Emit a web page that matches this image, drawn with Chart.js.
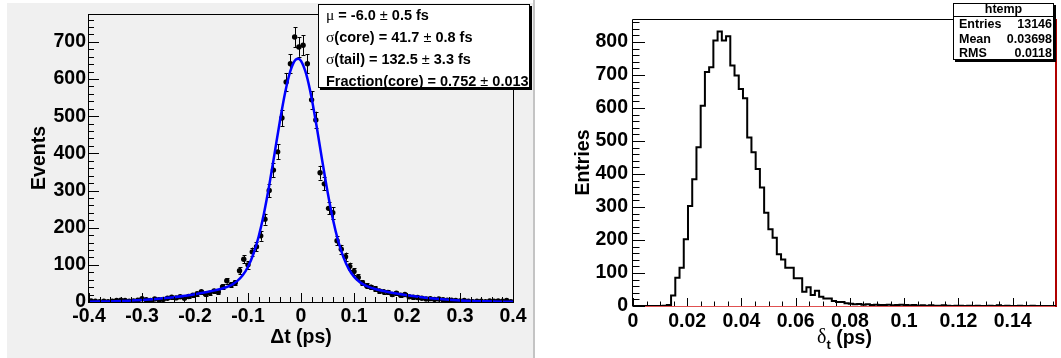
<!DOCTYPE html>
<html>
<head>
<meta charset="utf-8">
<script src="https://cdn.jsdelivr.net/npm/chart.js@4/dist/chart.umd.min.js"></script>
<style>
html, body { margin: 0; padding: 0; background: #fff; }
#wrap { position: relative; width: 1061px; height: 358px; }
#dtChart { position: absolute; left: 0; top: 0; }
#sigmaChart { position: absolute; left: 536px; top: 0; }
</style>
</head>
<body>
<div id="wrap">
<canvas id="dtChart" width="536" height="358"></canvas>
<canvas id="sigmaChart" width="525" height="358"></canvas>
</div>
<script>
// ---- delta t residuals, 100 bins of 0.008 ps from -0.4 to 0.4 ----
var dtMin = -0.4;
var dtBinWidth = 0.008;
var dtCounts = [
    3, 2, 1, 2, 1, 2, 4, 5, 4, 2,
    3, 5, 9, 6, 4, 8, 6, 7, 10, 13,
    11, 14, 10, 15, 18, 22, 28, 21, 24, 30,
    27, 41, 57, 46, 52, 84, 115, 100, 135, 149,
    178, 223, 300, 355, 404, 495, 592, 641, 713, 686,
    691, 641, 544, 490, 348, 318, 252, 240, 165, 142,
    122, 96, 82, 66, 52, 44, 40, 36, 30, 28,
    26, 20, 24, 18, 20, 14, 13, 12, 10, 8,
    9, 7, 8, 6, 5, 5, 4, 3, 4, 2,
    1, 2, 2, 1, 3, 2, 3, 2, 4, 1
];

// fitted double gaussian, sampled along delta t
var fitX = [-0.40, -0.35, -0.30, -0.25, -0.20, -0.18, -0.16, -0.14, -0.13, -0.12,
    -0.11, -0.10, -0.09, -0.08, -0.07, -0.06, -0.05, -0.04, -0.03, -0.02,
    -0.01, -0.005, 0.00, 0.01, 0.02, 0.03, 0.04, 0.05, 0.06, 0.07,
    0.08, 0.09, 0.10, 0.11, 0.12, 0.13, 0.14, 0.16, 0.18, 0.20,
    0.25, 0.30, 0.35, 0.40];
var fitY = [0.7, 2.1, 5.3, 11.3, 21.1, 26.1, 32.0, 40.3, 46.9, 56.7,
    71.7, 94.7, 128.4, 175.6, 237.6, 313.3, 398.4, 485.2, 563.4, 622.1,
    652.3, 654.8, 648.8, 612.4, 549.0, 468.2, 380.9, 297.2, 224.0, 165.0,
    120.7, 89.3, 68.2, 54.4, 45.4, 39.3, 34.9, 28.3, 23.0, 18.4,
    9.5, 4.3, 1.7, 0.6];

var dtXTicks = [-0.4, -0.3, -0.2, -0.1, 0, 0.1, 0.2, 0.3, 0.4];
var dtYTicks = [0, 100, 200, 300, 400, 500, 600, 700];
var fitLines = [
    'μ = -6.0 ± 0.5 fs',
    'σ(core) = 41.7 ± 0.8 fs',
    'σ(tail) = 132.5 ± 3.3 fs',
    'Fraction(core) = 0.752 ± 0.013'
];

// ---- per-event delta t error, 100 bins from 0 to 0.156 ps ----
var sigmaMin = 0;
var sigmaBinWidth = 0.00156;
var sigmaCounts = [
    0, 0, 0, 0, 0, 0, 0, 1, 3, 32,
    86, 116, 202, 303, 384, 481, 607, 709, 724, 805,
    832, 805, 818, 729, 699, 658, 630, 511, 466, 415,
    359, 283, 233, 207, 157, 141, 116, 116, 84, 84,
    43, 57, 33, 46, 28, 23, 23, 15, 12, 12,
    8, 7, 5, 6, 4, 5, 3, 4, 3, 3,
    4, 2, 3, 4, 3, 2, 3, 1, 2, 1,
    2, 1, 1, 2, 1, 0, 1, 1, 0, 1,
    0, 1, 0, 0, 1, 0, 2, 0, 1, 0,
    0, 1, 0, 0, 1, 0, 0, 0, 0, 0
];
var sigmaXTicks = [0, 0.02, 0.04, 0.06, 0.08, 0.1, 0.12, 0.14];
var sigmaYTicks = [0, 100, 200, 300, 400, 500, 600, 700, 800];
var statTitle = 'htemp';
var statRows = [['Entries', '13146'], ['Mean', '0.03698'], ['RMS', '0.0118']];

var FAMILY = '"Liberation Sans", Arial, Helvetica, sans-serif';
var tickFont = { family: FAMILY, size: 19.5, weight: 'bold' };
var titleFont = { family: FAMILY, size: 19.5, weight: 'bold' };

function range(from, to, step) {
    var out = [];
    for (var v = from; v <= to + step / 1000; v += step) out.push(+v.toFixed(6));
    return out;
}

function fmtTick(v) {
    return String(+(+v).toFixed(3));
}

// ticks drawn inside the frame, ROOT style
function drawTicks(chart, t) {
    var ctx = chart.ctx, a = chart.chartArea;
    var xs = chart.scales.x, ys = chart.scales.y;
    ctx.save();
    ctx.strokeStyle = '#000';
    ctx.lineWidth = 1;
    ctx.beginPath();
    function xt(list, len) {
        list.forEach(function (v) {
            var px = Math.round(xs.getPixelForValue(v)) + 0.5;
            ctx.moveTo(px, a.bottom);
            ctx.lineTo(px, a.bottom - len);
        });
    }
    function yt(list, len) {
        list.forEach(function (v) {
            var py = Math.round(ys.getPixelForValue(v)) + 0.5;
            ctx.moveTo(a.left, py);
            ctx.lineTo(a.left + len, py);
        });
    }
    xt(t.xMinor, t.xMinorLen);
    xt(t.xMajor, t.xMajorLen);
    yt(t.yMinor, t.yMinorLen);
    yt(t.yMajor, t.yMajorLen);
    ctx.stroke();
    ctx.restore();
}

// stats text: greek letters and the plus-minus come in a plain face
function drawRich(ctx, text, x, y, size) {
    var cur = x;
    for (var i = 0; i < text.length; i++) {
        var ch = text[i];
        if (ch === 'μ' || ch === 'σ') {
            ctx.font = (size + 1) + 'px "Liberation Serif", serif';
        } else if (ch === '±') {
            ctx.font = size + 'px ' + FAMILY;
        } else {
            ctx.font = 'bold ' + size + 'px ' + FAMILY;
        }
        ctx.fillText(ch, cur, y);
        cur += ctx.measureText(ch).width;
    }
}

function drawBox(ctx, x0, y0, x1, y1) {
    ctx.fillStyle = '#000';
    ctx.fillRect(x0 + 2, y0 + 2, x1 - x0, y1 - y0);
    ctx.fillStyle = '#fff';
    ctx.fillRect(x0, y0, x1 - x0, y1 - y0);
    ctx.strokeStyle = '#000';
    ctx.lineWidth = 1;
    ctx.strokeRect(x0 + 0.5, y0 + 0.5, x1 - x0 - 1, y1 - y0 - 1);
}

// ---------------------
// - LEFT: FIT OF DT -
// ---------------------
var dtPoints = dtCounts.map(function (c, i) {
    return { x: dtMin + (i + 0.5) * dtBinWidth, y: c };
});
var fitPoints = fitX.map(function (x, i) {
    return { x: x, y: fitY[i] };
});

var dtPlugin = {
    id: 'dtFrame',
    beforeDraw: function (chart) {
        var ctx = chart.ctx;
        ctx.save();
        ctx.fillStyle = '#fff';
        ctx.fillRect(0, 0, chart.width, chart.height);
        ctx.fillStyle = '#f0f0f0';
        ctx.fillRect(7, 3, 527, 355);
        ctx.fillStyle = '#c4c4c4';
        ctx.fillRect(533, 0, 2, 358);
        ctx.restore();
    },
    beforeDatasetsDraw: function (chart) {
        // poisson error bars under the markers
        var ctx = chart.ctx, a = chart.chartArea;
        var xs = chart.scales.x, ys = chart.scales.y;
        ctx.save();
        ctx.beginPath();
        ctx.rect(a.left, a.top, a.right - a.left, a.bottom - a.top);
        ctx.clip();
        ctx.strokeStyle = '#000';
        ctx.lineWidth = 1;
        ctx.beginPath();
        dtPoints.forEach(function (p) {
            var e = Math.sqrt(p.y);
            var px = Math.round(xs.getPixelForValue(p.x)) + 0.5;
            var top = ys.getPixelForValue(p.y + e);
            var bot = ys.getPixelForValue(Math.max(p.y - e, 0));
            ctx.moveTo(px, top);
            ctx.lineTo(px, bot);
            ctx.moveTo(px - 2, Math.round(top) + 0.5);
            ctx.lineTo(px + 2, Math.round(top) + 0.5);
            ctx.moveTo(px - 2, Math.round(bot) + 0.5);
            ctx.lineTo(px + 2, Math.round(bot) + 0.5);
        });
        ctx.stroke();
        ctx.restore();
    },
    afterDraw: function (chart) {
        var ctx = chart.ctx, a = chart.chartArea;
        ctx.save();
        ctx.strokeStyle = '#000';
        ctx.lineWidth = 1;
        ctx.strokeRect(Math.round(a.left) - 0.5, Math.round(a.top) + 0.5,
            Math.round(a.right - a.left) + 1, Math.round(a.bottom - a.top));
        drawTicks(chart, {
            xMajor: dtXTicks, xMinor: range(-0.4, 0.4, 0.02), xMajorLen: 9, xMinorLen: 5,
            yMajor: dtYTicks, yMinor: range(0, 760, 20), yMajorLen: 10, yMinorLen: 5
        });
        drawBox(ctx, 318, 4, 530, 88);
        ctx.fillStyle = '#000';
        ctx.textBaseline = 'middle';
        ctx.textAlign = 'left';
        fitLines.forEach(function (line, i) {
            drawRich(ctx, line, 326, 16 + i * 22, 14.5);
        });
        ctx.restore();
    }
};

var dtChart = new Chart(document.getElementById('dtChart'), {
    type: 'scatter',
    data: {
        datasets: [{
            type: 'line',
            data: fitPoints,
            borderColor: '#0000ff',
            borderWidth: 2.5,
            pointRadius: 0,
            fill: false,
            cubicInterpolationMode: 'monotone'
        }, {
            data: dtPoints,
            pointRadius: 2.7,
            pointHoverRadius: 2.7,
            backgroundColor: '#000',
            borderColor: '#000',
            borderWidth: 0
        }]
    },
    options: {
        responsive: false,
        animation: false,
        events: [],
        layout: { padding: { left: 0, top: 14, right: 23, bottom: 0 } },
        plugins: { legend: { display: false }, tooltip: { enabled: false } },
        scales: {
            x: {
                type: 'linear', min: -0.4, max: 0.4,
                grid: { display: false, drawTicks: false }, border: { display: false },
                afterBuildTicks: function (s) { s.ticks = dtXTicks.map(function (v) { return { value: v }; }); },
                afterFit: function (s) { s.height = 56; s.paddingLeft = 0; s.paddingRight = 0; },
                ticks: { padding: 3, color: '#000', font: tickFont, maxRotation: 0, autoSkip: false, callback: fmtTick },
                title: { display: true, text: 'Δt (ps)', color: '#000', font: titleFont, padding: { top: 0, bottom: 9 } }
            },
            y: {
                type: 'linear', min: 0, max: 775,
                grid: { display: false, drawTicks: false }, border: { display: false },
                afterBuildTicks: function (s) { s.ticks = dtYTicks.map(function (v) { return { value: v }; }); },
                afterFit: function (s) { s.width = 89; s.paddingTop = 0; s.paddingBottom = 0; },
                ticks: { padding: 3, color: '#000', font: tickFont, autoSkip: false, callback: fmtTick },
                title: { display: true, text: 'Events', color: '#000', font: titleFont, padding: { top: 28, bottom: 0 } }
            }
        }
    },
    plugins: [dtPlugin]
});

// ---------------------------
// - RIGHT: HISTOGRAM HTEMP -
// ---------------------------
var sigmaSteps = sigmaCounts.map(function (c, i) {
    return { x: sigmaMin + i * sigmaBinWidth, y: c };
});
sigmaSteps.push({ x: sigmaMin + sigmaCounts.length * sigmaBinWidth, y: sigmaCounts[sigmaCounts.length - 1] });

var sigmaPlugin = {
    id: 'sigmaFrame',
    beforeDraw: function (chart) {
        var ctx = chart.ctx;
        ctx.save();
        ctx.fillStyle = '#fff';
        ctx.fillRect(0, 0, chart.width, chart.height);
        ctx.restore();
    },
    beforeDatasetsDraw: function (chart) {
        var ctx = chart.ctx, a = chart.chartArea;
        var l = Math.round(a.left), r = Math.round(a.right), t = Math.round(a.top), b = Math.round(a.bottom);
        ctx.save();
        ctx.lineWidth = 1;
        ctx.strokeStyle = '#000';
        ctx.beginPath();
        ctx.moveTo(r, t + 0.5);
        ctx.lineTo(l - 0.5, t + 0.5);
        ctx.lineTo(l - 0.5, b + 0.5);
        ctx.stroke();
        ctx.strokeStyle = '#e05050';
        ctx.beginPath();
        ctx.moveTo(l, b + 0.5);
        ctx.lineTo(r, b + 0.5);
        ctx.stroke();
        ctx.strokeStyle = '#b00000';
        ctx.lineWidth = 2;
        ctx.beginPath();
        ctx.moveTo(r, t);
        ctx.lineTo(r, b + 1);
        ctx.stroke();
        ctx.restore();
    },
    afterDraw: function (chart) {
        var ctx = chart.ctx, a = chart.chartArea;
        drawTicks(chart, {
            xMajor: sigmaXTicks, xMinor: range(0, 0.155, 0.005), xMajorLen: 8, xMinorLen: 4.5,
            yMajor: sigmaYTicks, yMinor: range(0, 860, 20), yMajorLen: 12, yMinorLen: 6.5
        });
        ctx.save();
        ctx.fillStyle = '#000';
        // axis title with subscript
        var cx = (a.left + a.right) / 2, cy = 339;
        var f1 = '20px "Liberation Serif", serif';
        var f2 = 'bold 13px ' + FAMILY;
        var f3 = 'bold 19.5px ' + FAMILY;
        ctx.font = f1; var w1 = ctx.measureText('δ').width;
        ctx.font = f2; var w2 = ctx.measureText('t').width;
        ctx.font = f3; var w3 = ctx.measureText(' (ps)').width;
        var x0 = cx - (w1 + w2 + w3) / 2;
        ctx.textBaseline = 'middle';
        ctx.textAlign = 'left';
        ctx.font = f1; ctx.fillText('δ', x0, cy - 1);
        ctx.font = f2; ctx.fillText('t', x0 + w1, cy + 6);
        ctx.font = f3; ctx.fillText(' (ps)', x0 + w1 + w2, cy);
        // stats box
        drawBox(ctx, 417, 3, 518, 60);
        ctx.fillStyle = '#000';
        ctx.fillRect(417, 16, 101, 1);
        ctx.font = 'bold 12.5px ' + FAMILY;
        ctx.textAlign = 'center';
        ctx.fillText(statTitle, 467.5, 10);
        statRows.forEach(function (row, i) {
            var y = 25 + i * 14.3;
            ctx.textAlign = 'left';
            ctx.fillText(row[0], 423, y);
            ctx.textAlign = 'right';
            ctx.fillText(row[1], 516, y);
        });
        ctx.restore();
    }
};

var sigmaChart = new Chart(document.getElementById('sigmaChart'), {
    type: 'line',
    data: {
        datasets: [{
            data: sigmaSteps,
            stepped: 'before',
            borderColor: '#000',
            borderWidth: 2,
            pointRadius: 0,
            fill: false
        }]
    },
    options: {
        responsive: false,
        animation: false,
        events: [],
        layout: { padding: { left: 0, top: 19, right: 5, bottom: 0 } },
        plugins: { legend: { display: false }, tooltip: { enabled: false } },
        scales: {
            x: {
                type: 'linear', min: 0, max: 0.156,
                grid: { display: false, drawTicks: false }, border: { display: false },
                afterBuildTicks: function (s) { s.ticks = sigmaXTicks.map(function (v) { return { value: v }; }); },
                afterFit: function (s) { s.height = 52; s.paddingLeft = 0; s.paddingRight = 0; },
                ticks: { padding: 4, color: '#000', font: tickFont, maxRotation: 0, autoSkip: false, callback: fmtTick }
            },
            y: {
                type: 'linear', min: 0, max: 870,
                grid: { display: false, drawTicks: false }, border: { display: false },
                afterBuildTicks: function (s) { s.ticks = sigmaYTicks.map(function (v) { return { value: v }; }); },
                afterFit: function (s) { s.width = 97; s.paddingTop = 0; s.paddingBottom = 0; },
                ticks: { padding: 5, color: '#000', font: tickFont, autoSkip: false, callback: fmtTick },
                title: { display: true, text: 'Entries', color: '#000', font: titleFont, padding: { top: 36, bottom: 0 } }
            }
        }
    },
    plugins: [sigmaPlugin]
});
</script>
</body>
</html>
